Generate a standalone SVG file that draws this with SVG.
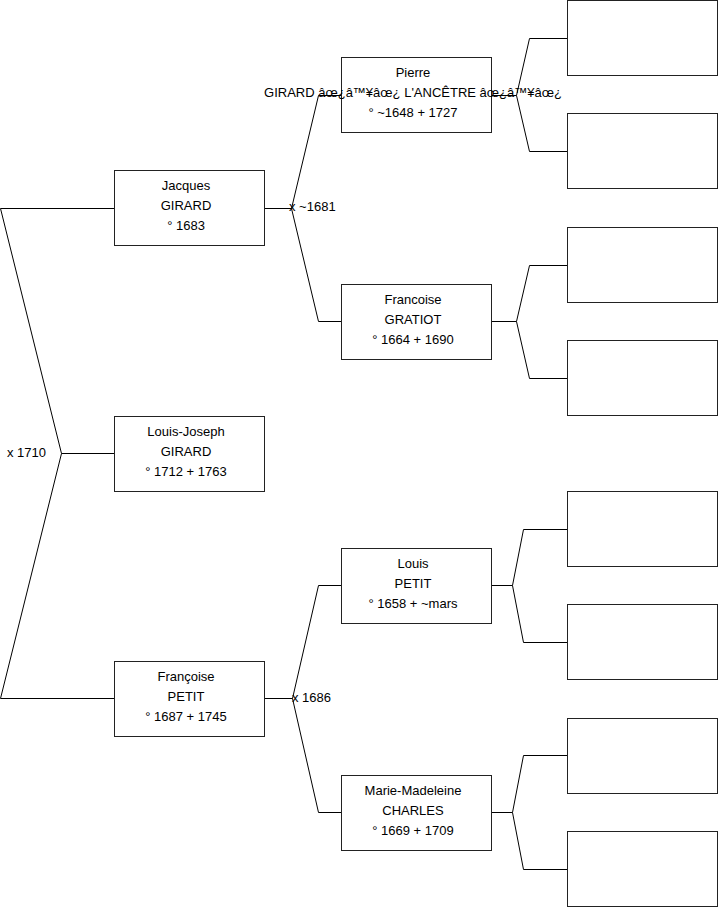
<svg xmlns="http://www.w3.org/2000/svg" width="719" height="908" viewBox="0 0 719 908">
<style>
.box{fill:#fff;stroke:#222;stroke-width:1}
.ln{fill:none;stroke:#000;stroke-width:1}
text{font-family:"Liberation Sans",Arial,sans-serif;font-size:13px;fill:#000}
.c{text-anchor:middle}
</style>
<rect width="719" height="908" fill="#fff"/>
<g id="connectors">
<path class="ln" d="M0.5,208.5H114 M0.5,208.5L61.5,453.5L0.5,698.5H114 M61.5,453.5H114"/>
<path class="ln" d="M265,208.5H291.5 M318.5,95.5L291.5,208.5L318.5,321.5 M318.5,95.5H341 M318.5,321.5H341"/>
<path class="ln" d="M265,698.5H292.5 M318.5,585.5L292.5,698.5L318.5,812.5 M318.5,585.5H341 M318.5,812.5H341"/>
<path class="ln" d="M492,95.5H516.5 M529.5,38.5L516.5,95.5L529.5,151.5 M529.5,38.5H567 M529.5,151.5H567"/>
<path class="ln" d="M492,321.5H516.5 M529.5,265.5L516.5,321.5L529.5,378.5 M529.5,265.5H567 M529.5,378.5H567"/>
<path class="ln" d="M492,585.5H512.5 M523.5,529.5L512.5,585.5L523.5,642.5 M523.5,529.5H567 M523.5,642.5H567"/>
<path class="ln" d="M492,812.5H512.5 M523.5,755.5L512.5,812.5L523.5,869.5 M523.5,755.5H567 M523.5,869.5H567"/>
<text x="7" y="457">x 1710</text>
<text x="289" y="211">x ~1681</text>
<text x="292" y="702">x 1686</text>
</g>
<g id="jacques"><rect class="box" x="114.5" y="170.5" width="150" height="75"/>
<text class="c" x="186" y="190">Jacques</text><text class="c" x="186" y="210">GIRARD</text><text class="c" x="186" y="230">° 1683</text></g>
<g id="louis-joseph"><rect class="box" x="114.5" y="416.5" width="150" height="75"/>
<text class="c" x="186" y="436">Louis-Joseph</text><text class="c" x="186" y="456">GIRARD</text><text class="c" x="186" y="476">° 1712 + 1763</text></g>
<g id="francoise-petit"><rect class="box" x="114.5" y="661.5" width="150" height="75"/>
<text class="c" x="186" y="681">Françoise</text><text class="c" x="186" y="701">PETIT</text><text class="c" x="186" y="721">° 1687 + 1745</text></g>
<g id="pierre"><rect class="box" x="341.5" y="57.5" width="150" height="75"/>
<text class="c" x="413" y="77">Pierre</text><text class="c" x="413" y="97">GIRARD âœ¿â™¥âœ¿ L'ANCÊTRE âœ¿â™¥âœ¿</text><text class="c" x="413" y="117">° ~1648 + 1727</text></g>
<g id="francoise-gratiot"><rect class="box" x="341.5" y="284.5" width="150" height="75"/>
<text class="c" x="413" y="304">Francoise</text><text class="c" x="413" y="324">GRATIOT</text><text class="c" x="413" y="344">° 1664 + 1690</text></g>
<g id="louis-petit"><rect class="box" x="341.5" y="548.5" width="150" height="75"/>
<text class="c" x="413" y="568">Louis</text><text class="c" x="413" y="588">PETIT</text><text class="c" x="413" y="608">° 1658 + ~mars</text></g>
<g id="marie-madeleine"><rect class="box" x="341.5" y="775.5" width="150" height="75"/>
<text class="c" x="413" y="795">Marie-Madeleine</text><text class="c" x="413" y="815">CHARLES</text><text class="c" x="413" y="835">° 1669 + 1709</text></g>
<g id="p1"><rect class="box" x="567.5" y="0.5" width="150" height="75"/></g>
<g id="p2"><rect class="box" x="567.5" y="113.5" width="150" height="75"/></g>
<g id="p3"><rect class="box" x="567.5" y="227.5" width="150" height="75"/></g>
<g id="p4"><rect class="box" x="567.5" y="340.5" width="150" height="75"/></g>
<g id="p5"><rect class="box" x="567.5" y="491.5" width="150" height="75"/></g>
<g id="p6"><rect class="box" x="567.5" y="604.5" width="150" height="75"/></g>
<g id="p7"><rect class="box" x="567.5" y="718.5" width="150" height="75"/></g>
<g id="p8"><rect class="box" x="567.5" y="831.5" width="150" height="75"/></g>
</svg>
